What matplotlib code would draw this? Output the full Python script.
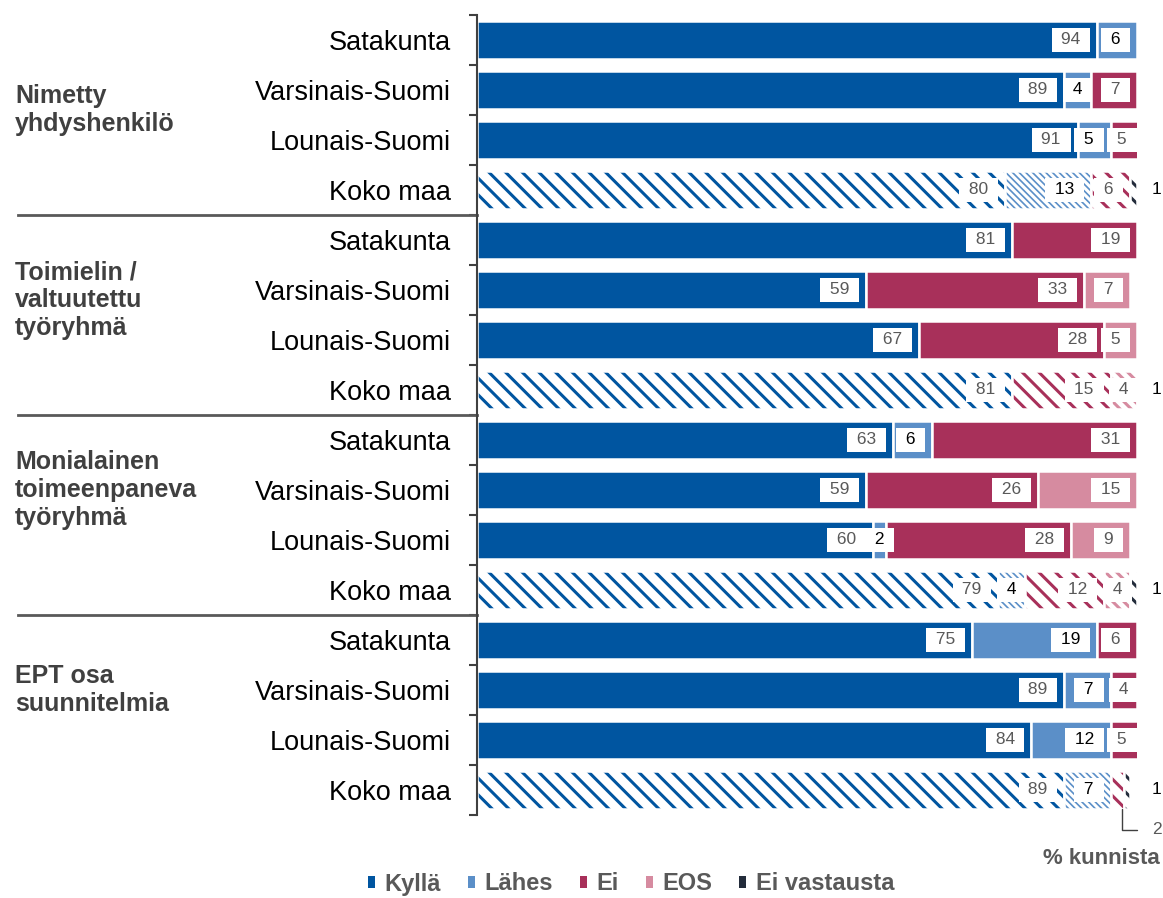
import numpy as np
import matplotlib.pyplot as plt
import matplotlib.transforms as mtransforms
from matplotlib.patches import Patch

plt.rcParams['font.family'] = ['Liberation Sans', 'DejaVu Sans']
plt.rcParams['hatch.linewidth'] = 2.2

regions = ['Satakunta', 'Varsinais-Suomi', 'Lounais-Suomi', 'Koko maa']
groups = ['Nimetty\nyhdyshenkilö', 'Toimielin /\nvaltuutettu\ntyöryhmä',
          'Monialainen\ntoimeenpaneva\ntyöryhmä', 'EPT osa\nsuunnitelmia']
series = ['Kyllä', 'Lähes', 'Ei', 'EOS', 'Ei vastausta']

kylla = [94, 89, 91, 80, 81, 59, 67, 81, 63, 59, 60, 79, 75, 89, 84, 89]
lahes = [6, 4, 5, 13, 0, 0, 0, 0, 6, 0, 2, 4, 19, 7, 12, 7]
ei = [0, 7, 5, 6, 19, 33, 28, 15, 31, 26, 28, 12, 6, 4, 5, 2]
eos = [0, 0, 0, 0, 0, 7, 5, 4, 0, 15, 9, 4, 0, 0, 0, 0]
ei_vast = [0, 0, 0, 1, 0, 0, 0, 1, 0, 0, 0, 1, 0, 0, 0, 1]

colors = ['#0055a0', '#5b8fc8', '#a8305a', '#d68ba0', '#232c3b']
txt_colors = ['#595959', '#000000', '#595959', '#595959', '#000000']
hatches = ['\\\\', '\\\\\\\\\\', '\\\\', '\\\\\\', '\\\\']

data = np.array([kylla, lahes, ei, eos, ei_vast], dtype=float)
labels = regions * len(groups)
n = len(labels)
y = np.arange(n)

fig = plt.figure(figsize=(11.63, 8.98), dpi=100)
ax = fig.add_axes([477 / 1163, 83 / 898, 660 / 1163, 800 / 898])

left = np.zeros(n)
for k in range(len(series)):
    vals = data[k]
    for i in range(n):
        v = vals[i]
        if v <= 0:
            continue
        national = labels[i] == 'Koko maa'
        if national:
            b = ax.barh(y[i], v, left=left[i], height=0.76, color='white',
                        edgecolor=colors[k], linewidth=0, hatch=hatches[k])
            if k == 1:
                try:
                    b[0].set_hatch_linewidth(1.2)
                except AttributeError:
                    pass
            ax.barh(y[i], v, left=left[i], height=0.76, fill=False,
                    edgecolor='white', linewidth=1.8)
        else:
            ax.barh(y[i], v, left=left[i], height=0.76, color=colors[k],
                    edgecolor='white', linewidth=1.8)
        end = left[i] + v
        if k == 4:
            ax.text(103, y[i], f'{v:.0f}', ha='center', va='center',
                    fontsize=12.5, color='black', clip_on=False)
        elif v <= 2 and k == 2:
            ax.annotate(f'{v:.0f}', xy=(end - 0.3, y[i] + 0.38),
                        xytext=(103, y[i] + 0.8), ha='center', va='center',
                        fontsize=12.5, color='#595959', annotation_clip=False,
                        arrowprops=dict(arrowstyle='-', color='#404040', lw=1,
                                        connectionstyle='angle,angleA=0,angleB=90,rad=0',
                                        shrinkA=9, shrinkB=0))
        else:
            if v < 5:
                tx, ha = left[i] + v / 2, 'center'
            else:
                tx, ha = end - 1.8, 'right'
            ax.text(tx, y[i], f' {v:.0f} ', ha=ha, va='center', fontsize=12.5,
                    color=txt_colors[k],
                    bbox=dict(boxstyle='square,pad=0.28', fc='white', ec='none'))
    left += vals

ax.set_xlim(0, 100)
ax.set_ylim(n - 0.5, -0.5)
ax.set_yticks(y)
ax.set_yticklabels(labels, fontsize=19.5)
ax.tick_params(axis='y', which='major', length=0, pad=19)
ax.set_yticks(np.arange(-0.5, n, 1), minor=True)
ax.tick_params(axis='y', which='minor', length=6, width=1.5, color='#404040')
ax.set_xticks([])
for s in ['top', 'right', 'bottom']:
    ax.spines[s].set_visible(False)
ax.spines['left'].set_color('#404040')
ax.spines['left'].set_linewidth(1.5)

# group labels and separators
trans = mtransforms.blended_transform_factory(fig.transFigure, ax.transData)
offsets = [1.4, 1.2, 1.0, 1.0]
for g, name in enumerate(groups):
    fig.text(15 / 1163, g * 4 + offsets[g], name, transform=trans, ha='left',
             va='center', fontsize=18, fontweight='bold', color='#404040',
             linespacing=1.2)
    if g > 0:
        ax.plot([18 / 1163, 477 / 1163], [g * 4 - 0.5, g * 4 - 0.5],
                transform=trans, color='#595959', lw=2, clip_on=False)

fig.text(1160 / 1163, 1 - 858 / 898, '% kunnista', ha='right', va='center',
         fontsize=16, fontweight='bold', color='#595959')

handles = [Patch(facecolor=c, edgecolor='none') for c in colors]
leg = fig.legend(handles, series, loc='center', ncol=5,
                 bbox_to_anchor=(631 / 1163, 1 - 884 / 898), frameon=False,
                 handlelength=0.3, handleheight=0.4, handletextpad=0.4,
                 columnspacing=1.15, borderpad=0,
                 prop=dict(family=['Liberation Sans Narrow', 'Liberation Sans'],
                           weight='bold', size=17))
for t in leg.get_texts():
    t.set_color('#595959')

fig.savefig('out.png', dpi=100)
